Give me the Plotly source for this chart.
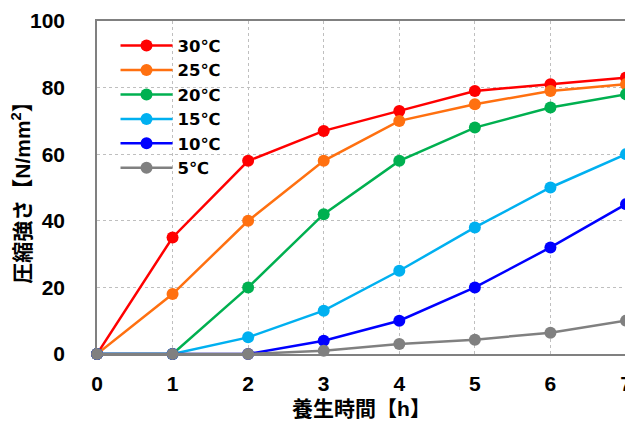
import plotly.graph_objects as go

hours = [0, 1, 2, 3, 4, 5, 6, 7]
series_names = ["30℃", "25℃", "20℃", "15℃", "10℃", "5℃"]
s30 = [0, 35, 58, 67, 73, 79, 81, 83]
s25 = [0, 18, 40, 58, 70, 75, 79, 81]
s20 = [0, 0, 20, 42, 58, 68, 74, 78]
s15 = [0, 0, 5, 13, 25, 38, 50, 60]
s10 = [0, 0, 0, 4, 10, 20, 32, 45]
s5 = [0, 0, 0, 1, 3, 4.3, 6.4, 10]
colors = ["#FF0000", "#FF7010", "#00B050", "#00B0F0", "#0000FF", "#808080"]
yticks = [0, 20, 40, 60, 80, 100]

FONT = "Liberation Sans, Arial, Noto Sans CJK JP"

fig = go.Figure()
for name, vals, c in zip(series_names, [s30, s25, s20, s15, s10, s5], colors):
    fig.add_trace(go.Scatter(x=hours, y=vals, name=name, mode="lines+markers",
                             line=dict(color=c, width=2.5),
                             marker=dict(color=c, size=12),
                             cliponaxis=False))

# page body has an 8px default margin; size figure so the plot lands where the reference has it
fig.update_layout(
    width=625, height=415,
    margin=dict(l=89, r=7, t=13, b=69),
    paper_bgcolor="white", plot_bgcolor="white",
    font=dict(family=FONT, size=21, color="black"),
    showlegend=True,
    legend=dict(x=0.035, y=0.978, xanchor="left", yanchor="top",
                bgcolor="rgba(0,0,0,0)",
                font=dict(size=16.5, family="DejaVu Sans, Noto Sans CJK JP", weight="bold"),
                tracegroupgap=0, itemwidth=52),
    xaxis=dict(range=[0, 7], tickvals=hours, ticktext=[f"<b>{h}</b>" for h in hours],
               showgrid=True, gridcolor="#BFBFBF", griddash="dot", gridwidth=1,
               showline=True, linecolor="#808080", linewidth=1.5, mirror=True,
               zeroline=False, ticks="", ticklabelstandoff=10, automargin=False,
               tickfont=dict(size=21),
               title=dict(text="<b>養生時間【h】</b>", font=dict(size=21), standoff=7)),
    yaxis=dict(range=[0, 100], tickvals=yticks,
               ticktext=[f"<b>{v}</b>" for v in yticks],
               showgrid=True, gridcolor="#BFBFBF", griddash="dot", gridwidth=1,
               showline=True, linecolor="#808080", linewidth=1.5, mirror=True,
               zeroline=False, ticks="", ticklabelstandoff=26, automargin=False,
               tickfont=dict(size=21),
               title=dict(text="<b>圧縮強さ【N/mm<sup>2</sup>】</b>", font=dict(size=21), standoff=3)),
)
fig.write_html("out.html")
